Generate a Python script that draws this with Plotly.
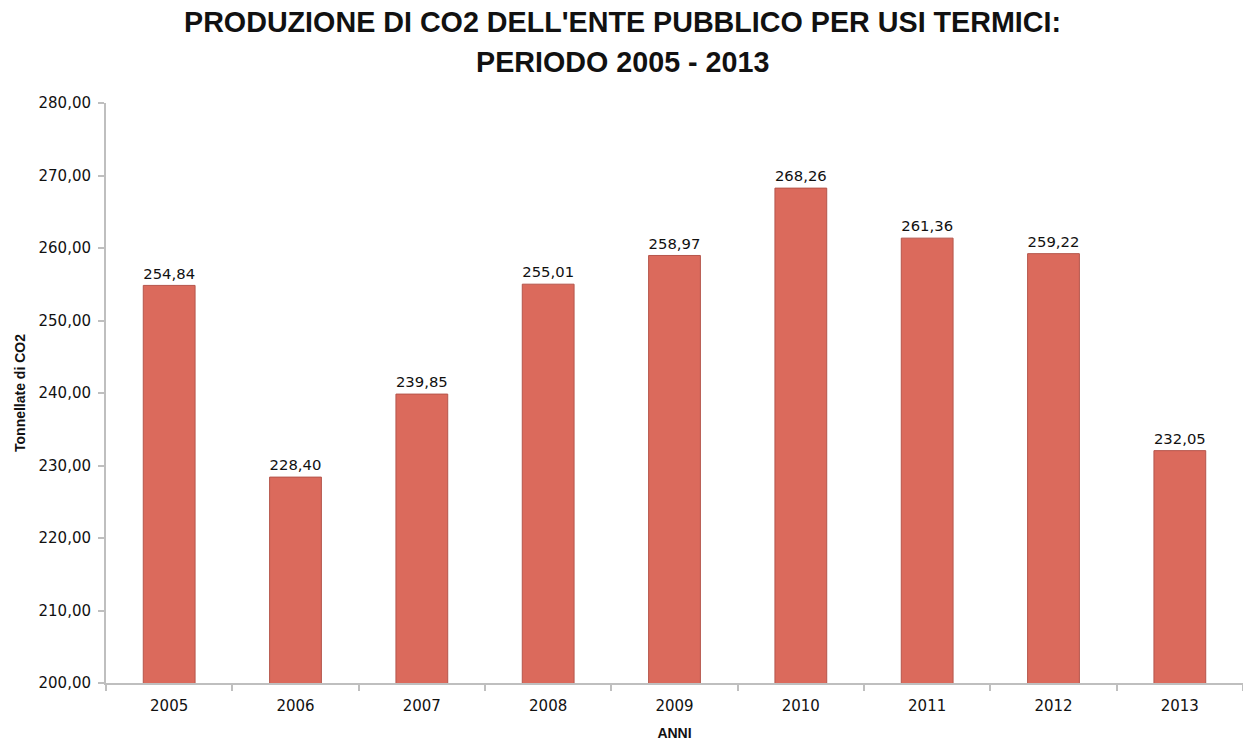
import plotly.graph_objects as go

# Annual CO2 emissions from public-sector heating (tonnes)
anni = ["2005", "2006", "2007", "2008", "2009", "2010", "2011", "2012", "2013"]
tonnellate = [254.84, 228.40, 239.85, 255.01, 258.97, 268.26, 261.36, 259.22, 232.05]
y_ticks = [200, 210, 220, 230, 240, 250, 260, 270, 280]
titolo = ["PRODUZIONE DI CO2 DELL'ENTE PUBBLICO PER USI TERMICI:", "PERIODO 2005 - 2013"]

fig = go.Figure()
fig.add_trace(go.Bar(
    x=anni,
    y=tonnellate,
    width=0.41,
    marker=dict(color="#DB6A5C", line=dict(color="#B5554B", width=1)),
    texttemplate="%{y:.2f}",
    textposition="outside",
    textfont=dict(size=16, color="#111111", family="DejaVu Sans"),
    cliponaxis=False,
))

# Two-line bold title, centred on the page, one annotation per line
for riga, ypos in zip(titolo, [1.140, 1.071]):
    fig.add_annotation(
        text=f"<b>{riga}</b>", xref="paper", yref="paper",
        x=0.454, y=ypos, xanchor="center", yanchor="middle",
        showarrow=False,
        font=dict(size=28.7, family="Liberation Sans", color="#111111"),
    )

fig.update_layout(
    width=1243, height=745,
    margin=dict(l=106, r=0, t=103, b=62),
    paper_bgcolor="white",
    plot_bgcolor="white",
    separators=",.",
    showlegend=False,
    font=dict(family="DejaVu Sans", color="#111111"),
    xaxis=dict(
        showline=True, linecolor="#BFBFBF", linewidth=2,
        ticks="outside", ticklen=6, tickcolor="#BFBFBF", tickwidth=2,
        tickson="boundaries",
        tickfont=dict(size=15),
        ticklabelstandoff=8,
        title=dict(text="<b>ANNI</b>", font=dict(size=14, family="Liberation Sans"), standoff=14),
        range=[-0.5, 8.5],
    ),
    yaxis=dict(
        range=[200, 280],
        tickvals=y_ticks,
        tickformat=".2f",
        showline=True, linecolor="#BFBFBF", linewidth=2,
        ticks="outside", ticklen=6, tickcolor="#BFBFBF", tickwidth=2,
        showgrid=False, zeroline=False,
        tickfont=dict(size=15),
        ticklabelstandoff=4,
        title=dict(text="<b>Tonnellate di CO2</b>", font=dict(size=14, family="Liberation Sans"), standoff=10),
    ),
)

fig.write_html("out.html")
